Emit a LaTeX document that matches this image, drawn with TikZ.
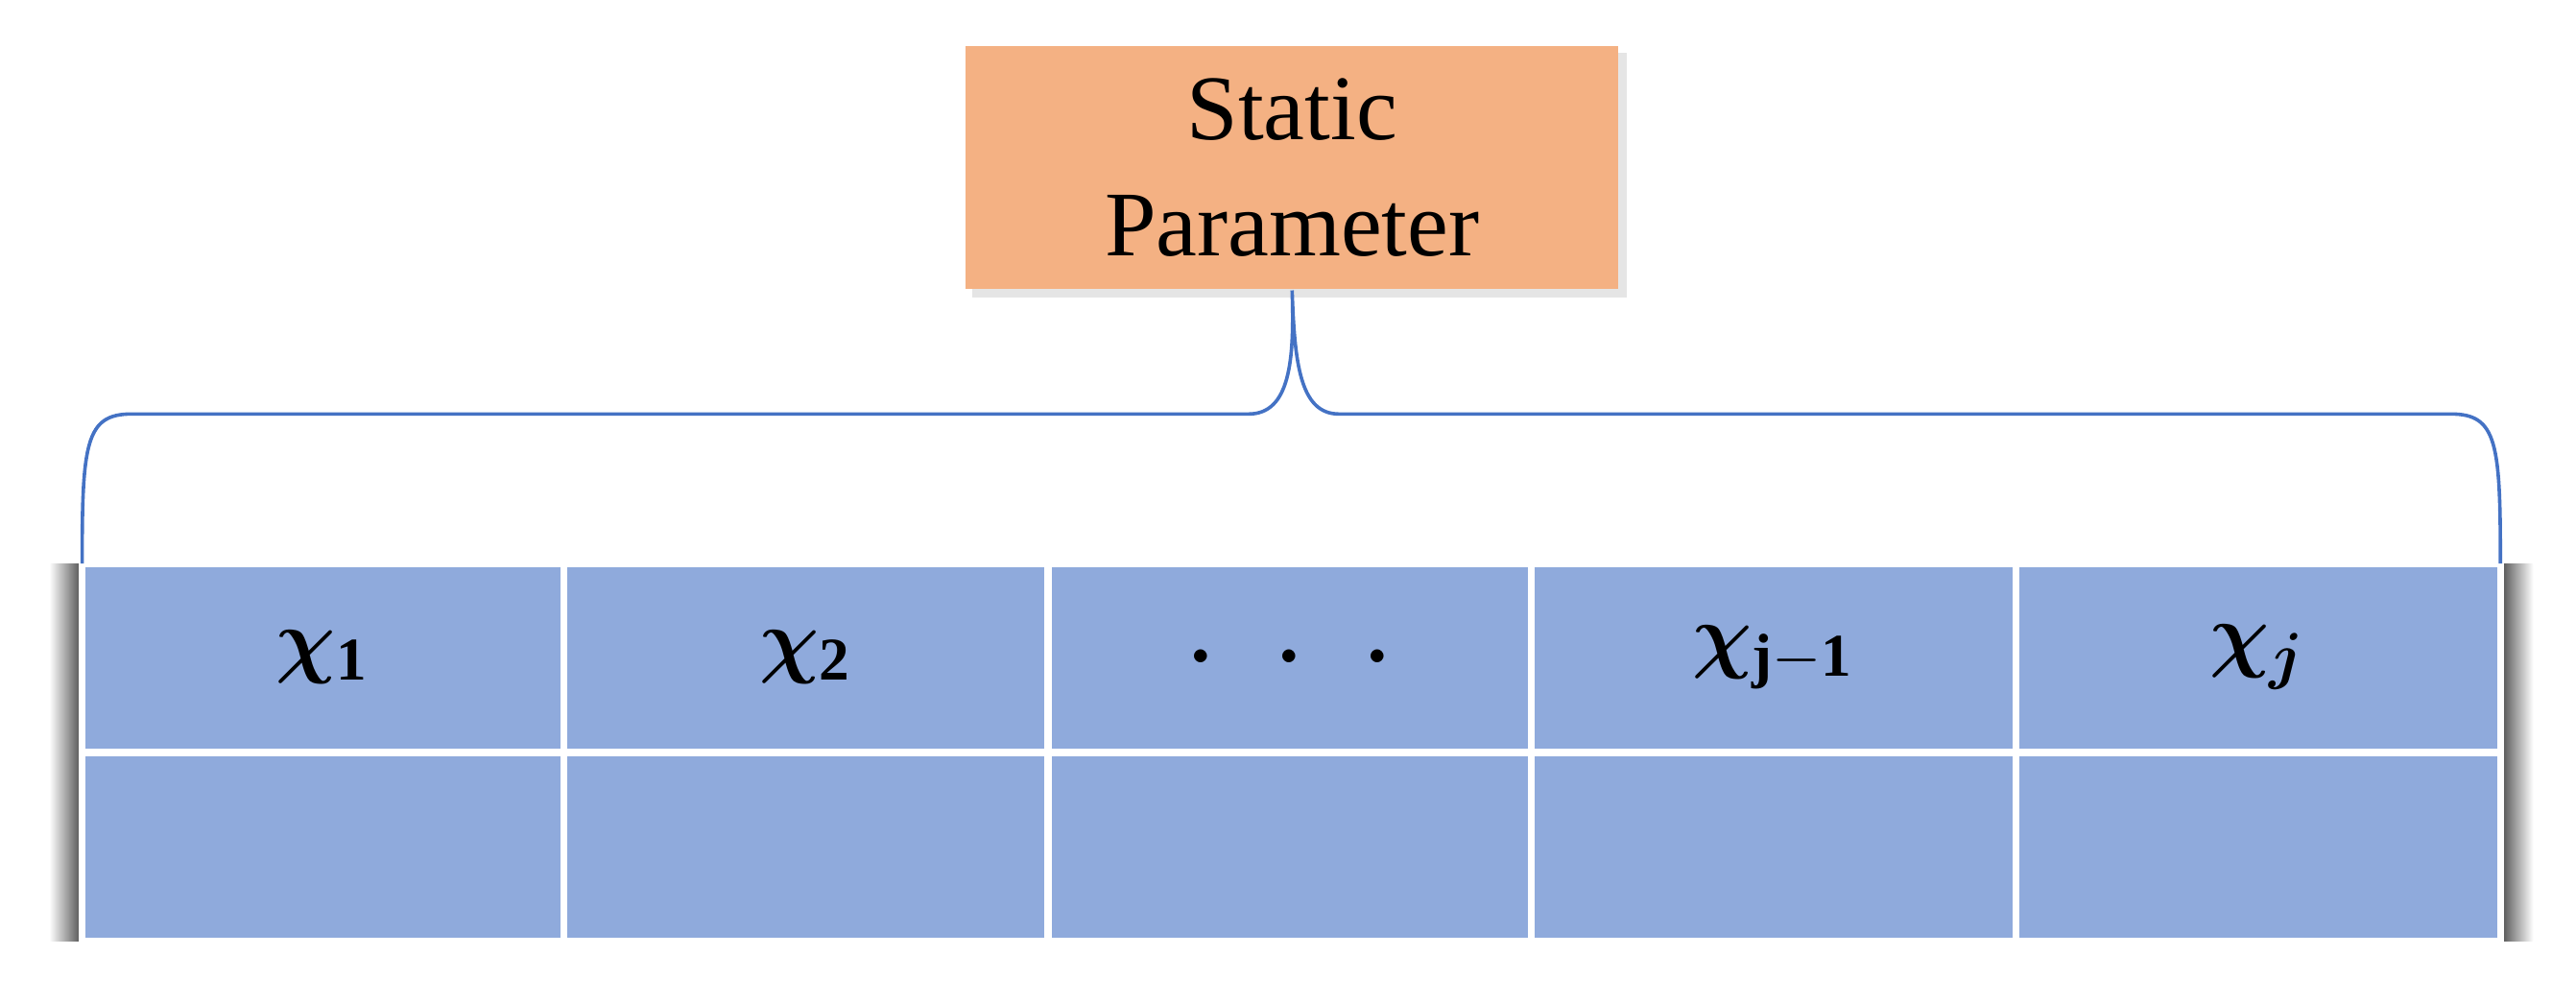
\documentclass[tikz,border=0pt]{standalone}
\usepackage{fontspec}
\usepackage{amsmath,bm}
\setmainfont{Liberation Serif}
\definecolor{boxor}{HTML}{F4B183}
\definecolor{cellb}{HTML}{8FAADC}
\definecolor{brc}{HTML}{4472C4}
\begin{document}
\begin{tikzpicture}[x=0.01cm,y=-0.01cm,
  cell/.style={fill=cellb,draw=white,line width=1.2pt},
  lab/.style={font=\fontsize{15}{18}\selectfont}]
\useasboundingbox (0,0) rectangle (1568,610);
% shadows
\shade[left color=white,right color=black!70] (30,343) rectangle (50,573);
\shade[left color=black!70,right color=white] (1522,343) rectangle (1542,573);
\fill[black!10] (592,32) rectangle (990,181);
\node[fill=boxor,minimum width=3.97cm,minimum height=1.48cm,align=center,
  font=\fontsize{16}{20}\selectfont,inner sep=0pt] (sp) at (786.5,102) {Static\\Parameter};
% table
\foreach \a/\b/\n in {50/343/a,343/638/b,638/932/c,932/1227/d,1227/1522/e}{
  \path[cell] (\a,343) rectangle (\b,458);
  \path[cell] (\a,458) rectangle (\b,573);
  \coordinate (\n) at ({(\a+\b)/2},400);
}
\draw[white,line width=1.2pt] (50,458)--(1522,458);
\foreach \x in {343,638,932,1227} \draw[white,line width=1.2pt] (\x,343)--(\x,573);
\node[lab] at (a) {$\bm{\chi}_{\mathbf{1}}$};
\node[lab] at (b) {$\bm{\chi}_{\mathbf{2}}$};
\node[lab] at (c) {$\bm{\cdot\ \ \cdot\ \ \cdot}$};
\node[lab] at (d) {$\bm{\chi}_{\mathbf{j-1}}$};
\node[lab] at (e) {$\bm{\chi}_{\bm{j}}$};
% brace
\coordinate (bl) at (50,343);
\coordinate (br) at (1522,343);
\draw[brc,line width=0.6pt] (bl) .. controls (50,270) and (52,252) .. (80,252)
  -- (760,252) .. controls (785,252) and (788,220) .. (sp.south)
  .. controls (788,220) and (791,252) .. (815,252) -- (1492,252)
  .. controls (1520,252) and (1522,270) .. (br);
\end{tikzpicture}
\end{document}
